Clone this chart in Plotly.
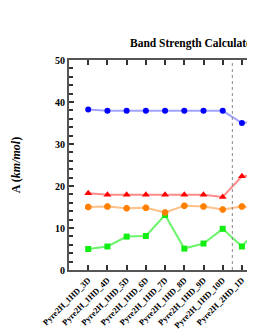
import plotly.graph_objects as go

categories = ["Pyre2H_1HD_3D", "Pyre2H_1HD_4D", "Pyre2H_1HD_5D", "Pyre2H_1HD_6D",
              "Pyre2H_1HD_7D", "Pyre2H_1HD_8D", "Pyre2H_1HD_9D", "Pyre2H_1HD_10D",
              "Pyre2H_2HD_1D", "Pyre2H_2HD_2D"]
n_group1 = 8

blue_vals = [38.2, 37.9, 37.9, 37.9, 37.9, 37.9, 37.9, 37.9, 35.0, 35.4]
red_vals = [18.3, 17.9, 17.9, 17.9, 17.9, 17.9, 17.9, 17.4, 22.3, 22.6]
orange_vals = [15.0, 15.1, 14.7, 14.8, 13.7, 15.3, 15.1, 14.4, 15.1, 14.5]
green_vals = [5.0, 5.6, 7.95, 8.1, 13.1, 5.1, 6.3, 9.8, 5.6, 10.8]

y_ticks = [0, 10, 20, 30, 40, 50]

FONT = "Liberation Serif, Times New Roman, serif"
x = list(range(len(categories)))

# page body has an 8px default margin, so the figure is sized to end at the window edge
W, H = 247, 322

fig = go.Figure()

series = [
    (green_vals, "#11EE11", "rgba(60,240,60,0.75)", "square", 6),
    (orange_vals, "#FF8000", "rgba(255,150,60,0.6)", "octagon", 7),
    (red_vals, "#FF0000", "rgba(255,60,60,0.6)", "triangle-up", 7),
    (blue_vals, "#0000FF", "rgba(70,70,255,0.5)", "circle", 6),
]
for vals, mc, lc, sym, sz in series:
    fig.add_trace(go.Scatter(
        x=x, y=vals, mode="lines+markers",
        line=dict(color=lc, width=2),
        marker=dict(color=mc, symbol=sym, size=sz, line=dict(width=0)),
        cliponaxis=True, showlegend=False,
    ))

sep = n_group1 - 0.5
fig.add_shape(type="line", xref="x", yref="paper", x0=sep, x1=sep, y0=0, y1=1,
              line=dict(color="#888888", width=1, dash="dot"))

fig.update_layout(
    width=W, height=H,
    margin=dict(l=61, r=0, t=52, b=60, autoexpand=False),
    paper_bgcolor="white", plot_bgcolor="white",
    font=dict(family=FONT, color="black"),
    title=dict(text="<b>Band Strength Calculated for Pyre2H</b>",
               x=122 / W, xanchor="left", xref="container",
               y=1 - 35 / H, yanchor="middle", automargin=False,
               font=dict(family=FONT, size=11.5, color="black")),
    xaxis=dict(
        tickmode="array", tickvals=x, ticktext=["<b>%s</b>" % c for c in categories],
        range=[-1.0, 8.68], tickangle=-45, automargin=False,
        showline=True, linecolor="#555555", linewidth=2, mirror="allticks",
        ticks="inside", ticklen=5, tickwidth=1.5, tickcolor="#333333",
        tickfont=dict(family=FONT, size=8.5, color="black"),
        showgrid=False, zeroline=False,
    ),
    yaxis=dict(
        range=[0, 50], tickvals=y_ticks, ticktext=["<b>%d</b>" % v for v in y_ticks],
        automargin=False,
        showline=True, linecolor="#555555", linewidth=2, mirror=True,
        ticks="inside", ticklen=5, tickwidth=1.5, tickcolor="#333333",
        minor=dict(dtick=2, ticks="inside", ticklen=4, tickwidth=1.5, tickcolor="#333333", showgrid=False),
        tickfont=dict(family=FONT, size=10, color="black"),
        showgrid=False, zeroline=False,
        title=dict(text="<b>A (<i>km/mol</i>)</b>", font=dict(family=FONT, size=12, color="black"),
                   standoff=32),
    ),
)

fig.write_html("out.html")
